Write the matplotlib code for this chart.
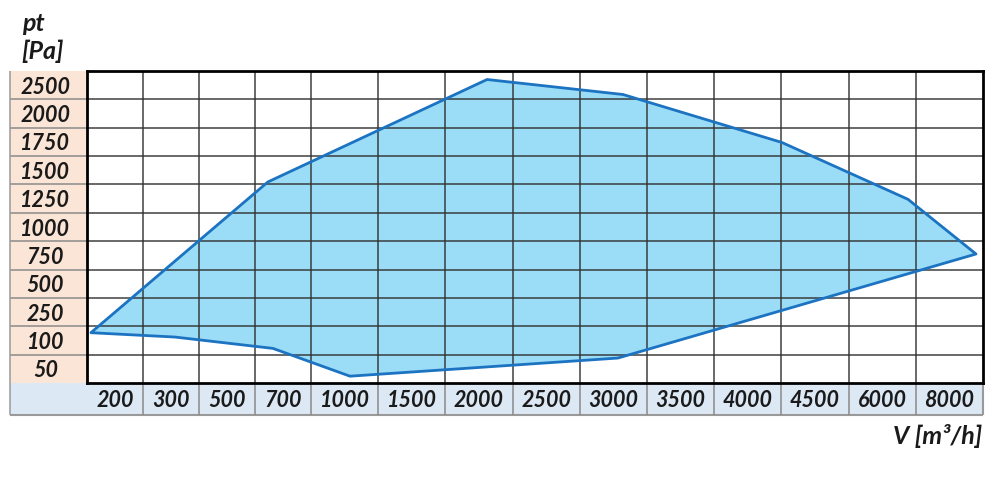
import numpy as np
import matplotlib
matplotlib.use("Agg")
import matplotlib.pyplot as plt
from matplotlib.patches import Rectangle

# category labels of the table (air flow and total pressure)
v_labels = [200, 300, 500, 700, 1000, 1500, 2000, 2500, 3000, 3500, 4000, 4500, 6000, 8000]
pt_labels = [50, 100, 250, 500, 750, 1000, 1250, 1500, 1750, 2000, 2500]

# working range outline (V in m3/h, pt in Pa)
v_outline = [157, 646, 2060, 3071, 4254, 6768, 8792, 3034, 1040, 664, 314]
pt_outline = [141, 1397, 2600, 2336, 1745, 1244, 762, 69, 37, 86, 118]

# column widths (px) - first four columns are narrower
col_w = np.array([56.0] * 4 + [67.2] * 10)
col_edges = np.concatenate([[0], np.cumsum(col_w)])
col_centers = col_edges[:-1] + col_w / 2
row_edges = np.arange(len(pt_labels) + 1, dtype=float)
row_centers = row_edges[:-1] + 0.5


def piecewise(xp, fp):
    xp = np.asarray(xp, float)
    fp = np.asarray(fp, float)
    s0 = (fp[1] - fp[0]) / (xp[1] - xp[0])
    s1 = (fp[-1] - fp[-2]) / (xp[-1] - xp[-2])

    def f(v):
        v = np.asarray(v, float)
        out = np.interp(v, xp, fp)
        out = np.where(v < xp[0], fp[0] + (v - xp[0]) * s0, out)
        out = np.where(v > xp[-1], fp[-1] + (v - xp[-1]) * s1, out)
        return out
    return f


x_fwd = piecewise(v_labels, col_centers)
x_inv = piecewise(col_centers, v_labels)
y_fwd = piecewise(pt_labels, row_centers)
y_inv = piecewise(row_centers, pt_labels)

plt.rcParams['font.family'] = ['Lato', 'DejaVu Sans']
txt = dict(fontsize=15.5, fontweight='bold', fontstyle='italic', color='#1a1a1a')
ttl = dict(txt, fontsize=18)

fig = plt.figure(figsize=(10, 4.86), dpi=100)
ax_l, ax_b, ax_w, ax_h = 0.087, 1 - 383 / 486, 0.896, 312 / 486
ax = fig.add_axes([ax_l, ax_b, ax_w, ax_h])
ax.set_xscale('function', functions=(x_fwd, x_inv))
ax.set_yscale('function', functions=(y_fwd, y_inv))
ax.set_xlim(float(x_inv(col_edges[0])), float(x_inv(col_edges[-1])))
ax.set_ylim(float(y_inv(row_edges[0])), float(y_inv(row_edges[-1])))

# outline of the fan's working area
ax.fill(v_outline, pt_outline, facecolor='#9bdcf6', edgecolor='none', zorder=1)
ax.fill(v_outline, pt_outline, facecolor='none', edgecolor='#1b73c2', lw=2.0,
        joinstyle='round', zorder=4)

# grid on cell borders
ax.set_xticks(x_inv(col_edges[1:-1]), minor=True)
ax.set_yticks(y_inv(row_edges[1:-1]), minor=True)
ax.grid(which='minor', color='#303030', lw=1.2, alpha=0.85, zorder=2)
ax.grid(which='major', visible=False)
ax.set_axisbelow(False)
for sp in ax.spines.values():
    sp.set_linewidth(2.0)
    sp.set_color('black')
    sp.set_zorder(5)

# tick labels sit in the middle of the cells
ax.set_xticks(v_labels)
ax.set_xticklabels([str(v) for v in v_labels], **txt)
ax.set_yticks(pt_labels)
ax.set_yticklabels([str(p) for p in pt_labels], **txt)
ax.tick_params(which='both', length=0)
ax.tick_params(axis='x', pad=11)
ax.tick_params(axis='y', pad=30)
for lb in ax.get_yticklabels():
    lb.set_horizontalalignment('center')
    lb.set_verticalalignment('center_baseline')
for lb in ax.get_xticklabels():
    lb.set_verticalalignment('center_baseline')

# header cells around the grid
col_x0 = -(87 - 10) / 896
row_y0 = -(415 - 383) / 312
ax.add_patch(Rectangle((col_x0, 0), -col_x0, 1, transform=ax.transAxes,
                       facecolor='#fbe5d6', edgecolor='none', clip_on=False, zorder=0))
ax.add_patch(Rectangle((col_x0, row_y0), 1 - col_x0, -row_y0, transform=ax.transAxes,
                       facecolor='#dde8f5', edgecolor='none', clip_on=False, zorder=0))
ax.hlines(y_inv(row_edges[1:-1]), col_x0, 0, transform=ax.get_yaxis_transform(),
          color='#8a8a8a', lw=1.1, clip_on=False)
ax.hlines([row_y0], col_x0, 1, transform=ax.transAxes, color='#9a9a9a', lw=1.5, clip_on=False)
ax.vlines([col_x0], row_y0, 1, transform=ax.transAxes, color='#9a9a9a', lw=1.1, clip_on=False)
ax.vlines([1], row_y0, 0, transform=ax.transAxes, color='#9a9a9a', lw=1.5, clip_on=False)
ax.vlines(x_inv(col_edges[1:-1]), row_y0, 0, transform=ax.get_xaxis_transform(),
          color='#8a8a8a', lw=1.1, clip_on=False)

# axis titles
fig.text(22 / 1000, 1 - 31 / 486, 'pt', ha='left', va='baseline', **ttl)
fig.text(21 / 1000, 1 - 59 / 486, '[Pa]', ha='left', va='baseline', **ttl)
fig.text(982 / 1000, 1 - 444 / 486, 'V [m\u00b3/h]', ha='right', va='baseline', **ttl)

fig.savefig('out.png', dpi=100)
